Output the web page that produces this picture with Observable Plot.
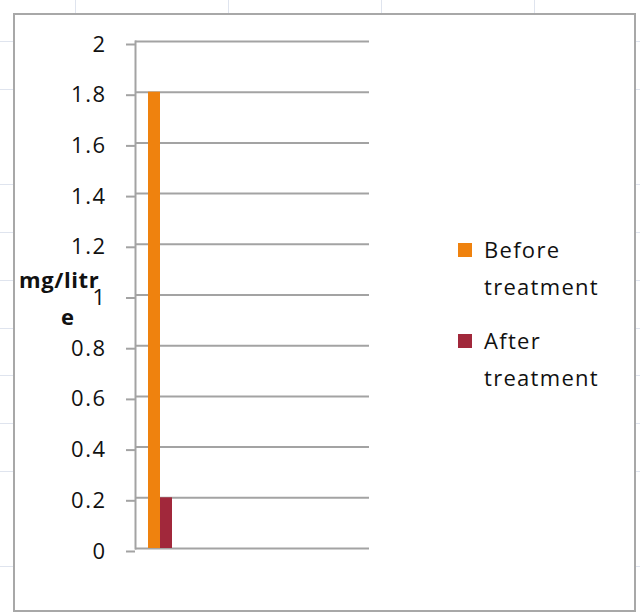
<!DOCTYPE html>
<html>
<head>
<meta charset="utf-8">
<script src="https://cdn.jsdelivr.net/npm/d3@7"></script>
<script src="https://cdn.jsdelivr.net/npm/@observablehq/plot@0.6"></script>
<style>
  html, body { margin: 0; padding: 0; background: #fff; }
  #wrap {
    position: relative; width: 640px; height: 612px; overflow: hidden;
    background-color: #fff;
    background-image:
      repeating-linear-gradient(to right, transparent 0, transparent 75px, #dfe4ee 75px, #dfe4ee 76px, transparent 76px, transparent 153px),
      repeating-linear-gradient(to bottom, transparent 0, transparent 41px, #dfe4ee 41px, #dfe4ee 42px, transparent 42px, transparent 47.75px);
  }
  #panel {
    position: absolute; left: 13px; top: 13px; width: 623px; height: 599px;
    box-sizing: border-box; border: 2px solid #a8a8a8; background: #fff;
  }
  #plot { position: absolute; left: 0; top: 0; }
  #plot svg g[aria-label="y-axis tick label"] text { letter-spacing: 1.5px; }
  .ylab { position: absolute; font-family: "Open Sans", sans-serif; font-weight: bold; font-size: 22px; color: #111; line-height: 1; letter-spacing: 0.6px; }
  .leg { position: absolute; font-family: "Open Sans", sans-serif; font-size: 22px; color: #111; line-height: 37px; letter-spacing: 1.3px; }
  .sw { position: absolute; width: 14px; height: 14px; }
</style>
</head>
<body>
<div id="wrap">
  <div id="panel"></div>
  <div id="plot"></div>
</div>
<script>
const series = ["Before treatment", "After treatment"];
const values = [1.8, 0.2];
const colors = ["#ef820e", "#a1283b"];
const yTicks = [0, 0.2, 0.4, 0.6, 0.8, 1, 1.2, 1.4, 1.6, 1.8, 2];
const yLabelLines = ["mg/litr", "e"];
const legendLines = [["Before", "treatment"], ["After", "treatment"]];

const data = series.map((s, i) => ({series: s, value: values[i]}));

const chart = Plot.plot({
  width: 640,
  height: 612,
  marginLeft: 135,
  marginRight: 271,
  marginTop: 41,
  marginBottom: 64,
  style: {background: "transparent", overflow: "visible"},
  x: {type: "band", domain: series, range: [147, 172], padding: 0, axis: null},
  y: {domain: [0, 2], ticks: yTicks},
  color: {domain: series, range: colors},
  marks: [
    Plot.gridY(yTicks, {stroke: "#a3a3a3", strokeOpacity: 1, strokeWidth: 2}),
    Plot.axisY(yTicks, {
      tickSize: 9, tickPadding: 20, stroke: "#a3a3a3", strokeWidth: 2,
      fontSize: 22, fontFamily: "Open Sans, sans-serif", fill: "#111",
      dy: 3, tickFormat: d => String(d), label: null
    }),
    Plot.barY(data, {x: "series", y: "value", fill: "series", inset: 0}),
    Plot.frame({anchor: "left", stroke: "#a3a3a3", strokeWidth: 2})
  ]
});
document.getElementById("plot").appendChild(chart);

const wrap = document.getElementById("wrap");
// y-axis label (wrapped as in the original)
const yl1 = document.createElement("div");
yl1.className = "ylab"; yl1.textContent = yLabelLines[0];
yl1.style.left = "19px"; yl1.style.top = "268px";
wrap.appendChild(yl1);
const yl2 = document.createElement("div");
yl2.className = "ylab"; yl2.textContent = yLabelLines[1];
yl2.style.left = "61px"; yl2.style.top = "305px";
wrap.appendChild(yl2);

// legend
const legTops = [231, 322];
legendLines.forEach((lines, i) => {
  const sw = document.createElement("div");
  sw.className = "sw"; sw.style.background = colors[i];
  sw.style.left = "458px"; sw.style.top = (legTops[i] + 12) + "px";
  wrap.appendChild(sw);
  const t = document.createElement("div");
  t.className = "leg"; t.innerHTML = lines.join("<br>");
  t.style.left = "484px"; t.style.top = legTops[i] + "px";
  wrap.appendChild(t);
});
</script>
</body>
</html>
